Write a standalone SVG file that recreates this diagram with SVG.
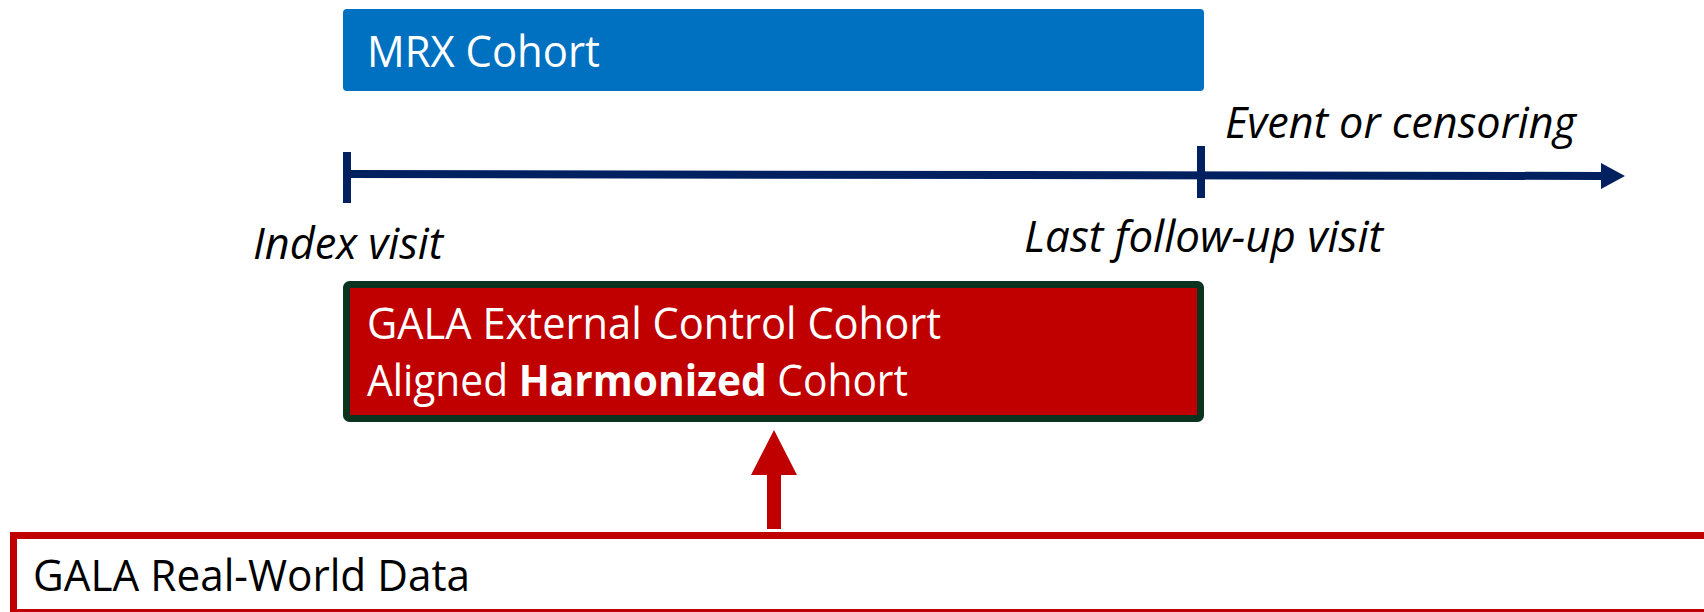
<svg xmlns="http://www.w3.org/2000/svg" width="1704" height="612" viewBox="0 0 1704 612">
<style>
.t{font-family:"Open Sans","Liberation Sans",sans-serif;font-size:43px}
.w{fill:#ffffff}
.k{fill:#000000}
.i{font-style:italic}
.nav{stroke:#002060;stroke-width:8;fill:none}
</style>
<defs>
<marker id="ah" markerUnits="userSpaceOnUse" markerWidth="28" markerHeight="28" refX="2" refY="13" orient="auto">
<path d="M0,0 L24,13 L0,26 Z" fill="#002060"/>
</marker>
</defs>
<rect width="1704" height="612" fill="#ffffff"/>
<g id="mrx">
<rect x="343" y="9" width="861" height="82" rx="4" fill="#0070C0"/>
<text class="t w" x="367" y="67" textLength="233" lengthAdjust="spacingAndGlyphs">MRX Cohort</text>
</g>
<g id="connectors">
<line class="nav" x1="347" y1="174" x2="1603" y2="176" marker-end="url(#ah)"/>
<line class="nav" x1="347" y1="152" x2="347" y2="203"/>
<line class="nav" x1="1201" y1="146" x2="1201" y2="198"/>
<path d="M767,529 L767,475 L751,475 L774,430 L797,475 L781,475 L781,529 Z" fill="#C00000"/>
</g>
<g id="labels">
<text class="t k i" x="1225" y="138" textLength="351" lengthAdjust="spacingAndGlyphs">Event or censoring</text>
<text class="t k i" x="253" y="259" textLength="190" lengthAdjust="spacingAndGlyphs">Index visit</text>
<text class="t k i" x="1024" y="252" textLength="359" lengthAdjust="spacingAndGlyphs">Last follow-up visit</text>
</g>
<g id="gala">
<rect x="346.5" y="284.5" width="854" height="134" rx="3" fill="#C00000" stroke="#0B3320" stroke-width="7"/>
<text class="t w" x="367" y="339" textLength="574" lengthAdjust="spacingAndGlyphs">GALA External Control Cohort</text>
<text class="t w" x="367" y="396" textLength="541" lengthAdjust="spacingAndGlyphs">Aligned <tspan font-weight="bold">Harmonized</tspan> Cohort</text>
</g>
<g id="rwd">
<rect x="13.5" y="535.5" width="1720" height="77" fill="#ffffff" stroke="#C00000" stroke-width="7"/>
<text class="t k" x="33" y="591" textLength="437" lengthAdjust="spacingAndGlyphs">GALA Real-World Data</text>
</g>
</svg>
